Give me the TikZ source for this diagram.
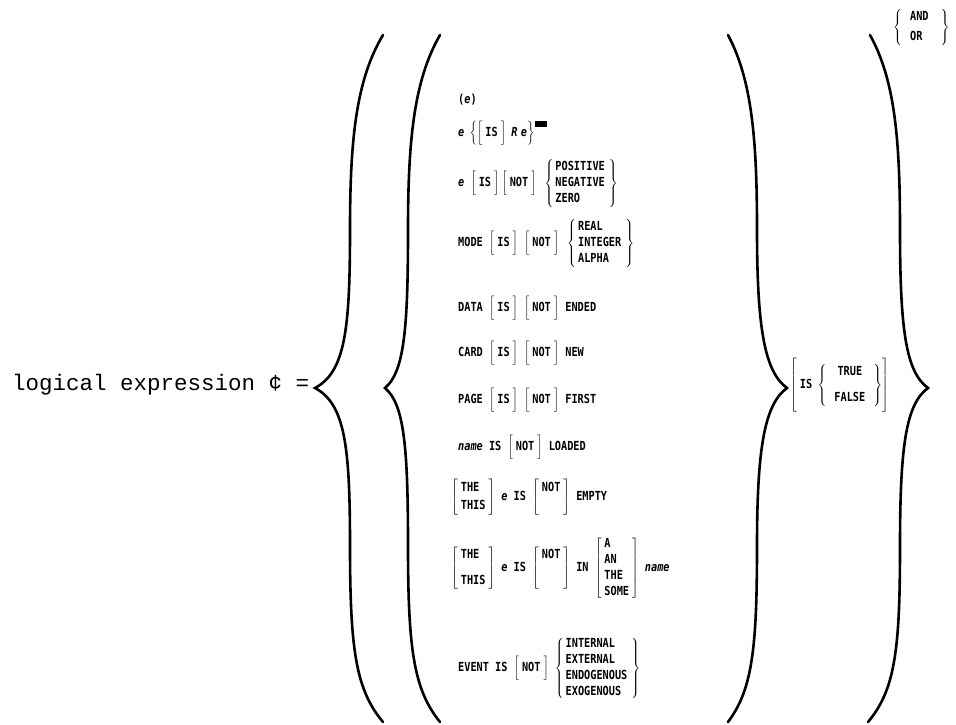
\documentclass[tikz,border=0pt]{standalone}
\usepackage{fontspec}
\setmonofont{Liberation Mono}
\newfontfamily\gothic[FakeStretch=0.82]{DejaVu Sans Mono}
\usepackage{tikz}
\usetikzlibrary{positioning}
\newcommand{\opt}[1]{\ensuremath{\left[\vrule height 14pt depth 9pt width 0pt\hspace{3pt}\mbox{#1}\hspace{3pt}\right]}}
\newcommand{\optlist}[1]{\ensuremath{\left[\begin{tabular}{@{\hspace{3pt}}l@{\hspace{3pt}}}#1\end{tabular}\right]}}
\newcommand{\pick}[1]{\ensuremath{\left\{\begin{tabular}{@{\hspace{2pt}}l@{\hspace{4pt}}}#1\end{tabular}\right\}}}
\newcommand{\var}[1]{\textit{#1}}
\tikzset{
    row/.style={anchor=west, inner sep=0pt, font=\gothic\bfseries\fontsize{12.5}{16}\selectfont},
    lhs/.style={anchor=west, inner sep=0pt, font=\ttfamily\fontsize{22.5}{27}\selectfont},
    bigbrace/.style={line width=2.6pt, line cap=round},
}

\begin{document}
\begin{tikzpicture}[x=1pt, y=-1pt]
        \useasboundingbox (0,0) rectangle (956,724);

        % Left-hand side
        \node[lhs] (name) at (12,385) {logical expression ¢ =};

        % Alternatives
        \node[row] (paren) at (458,100) {(\var{e})};
        \node[row, below=33pt of paren.west, anchor=west] (relation) {$\var{e}\;\left\{\opt{IS}\;\var{R}\;\var{e}\right\}$\rule[9pt]{12pt}{6pt}};
        \node[row, below=50pt of relation.west, anchor=west] (sign) {\var{e} \opt{IS}\,\opt{NOT}\hspace{8pt}\pick{POSITIVE\\NEGATIVE\\ZERO}};
        \node[row, below=60pt of sign.west, anchor=west] (mode) {MODE \opt{IS} \opt{NOT}\hspace{8pt}\pick{REAL\\INTEGER\\ALPHA}};
        \node[row, below=65pt of mode.west, anchor=west] (data) {DATA \opt{IS} \opt{NOT} ENDED};
        \node[row, below=45pt of data.west, anchor=west] (card) {CARD \opt{IS} \opt{NOT} NEW};
        \node[row, below=47pt of card.west, anchor=west] (page) {PAGE \opt{IS} \opt{NOT} FIRST};
        \node[row, below=47pt of page.west, anchor=west] (loaded) {\var{name} IS \opt{NOT} LOADED};
        \node[row, below=50pt of loaded.west, anchor=west, xshift=-7pt] (empty) {\optlist{THE\\[2pt]THIS} \var{e} IS \optlist{NOT\\[2pt] \mbox{}} EMPTY};
        \node[row, below=71pt of empty.west, anchor=west] (member) {\optlist{THE\\[10pt]THIS} \var{e} IS \optlist{NOT\\[10pt] \mbox{}} IN \optlist{A\\AN\\THE\\SOME} \var{name}};
        \node[row, below=100pt of member.west, anchor=west, xshift=7pt] (event) {EVENT IS \opt{NOT}\hspace{6pt}\pick{INTERNAL\\EXTERNAL\\ENDOGENOUS\\EXOGENOUS}};

        % Truth value and connective
        \node[row] (truth) at (790,385) {$\left[\vrule height 26pt depth 24pt width 0pt\hspace{3pt}\mbox{IS}\;\left\{\begin{tabular}{@{\hspace{8pt}}c@{\hspace{8pt}}}TRUE\\[10pt]FALSE\end{tabular}\right\}\right]$};
        \node[row] (conj) at (893,27) {$\left\{\begin{tabular}{@{\hspace{8pt}}l@{\hspace{12pt}}}AND\\[4pt]OR\end{tabular}\right\}$};

        % Braces
        \draw[bigbrace] (383,35) .. controls (356,80) and (350,140) .. (350,230) .. controls (350,330) and (345,372) .. (315,388) .. controls (345,404) and (350,446) .. (350,546) .. controls (350,650) and (356,690) .. (383,722);
        \draw[bigbrace] (440,35) .. controls (414,80) and (408,140) .. (408,230) .. controls (408,330) and (404,372) .. (385,388) .. controls (404,404) and (408,446) .. (408,546) .. controls (408,650) and (414,690) .. (440,722);
        \draw[bigbrace] (728,35) .. controls (752,80) and (757,140) .. (757,230) .. controls (757,330) and (765,372) .. (787,388) .. controls (765,404) and (757,446) .. (757,546) .. controls (757,650) and (752,690) .. (728,722);
        \draw[bigbrace] (870,35) .. controls (895,80) and (900,140) .. (900,230) .. controls (900,330) and (906,372) .. (928,388) .. controls (906,404) and (900,446) .. (900,546) .. controls (900,650) and (895,690) .. (868,722);
    \end{tikzpicture}
\end{document}
